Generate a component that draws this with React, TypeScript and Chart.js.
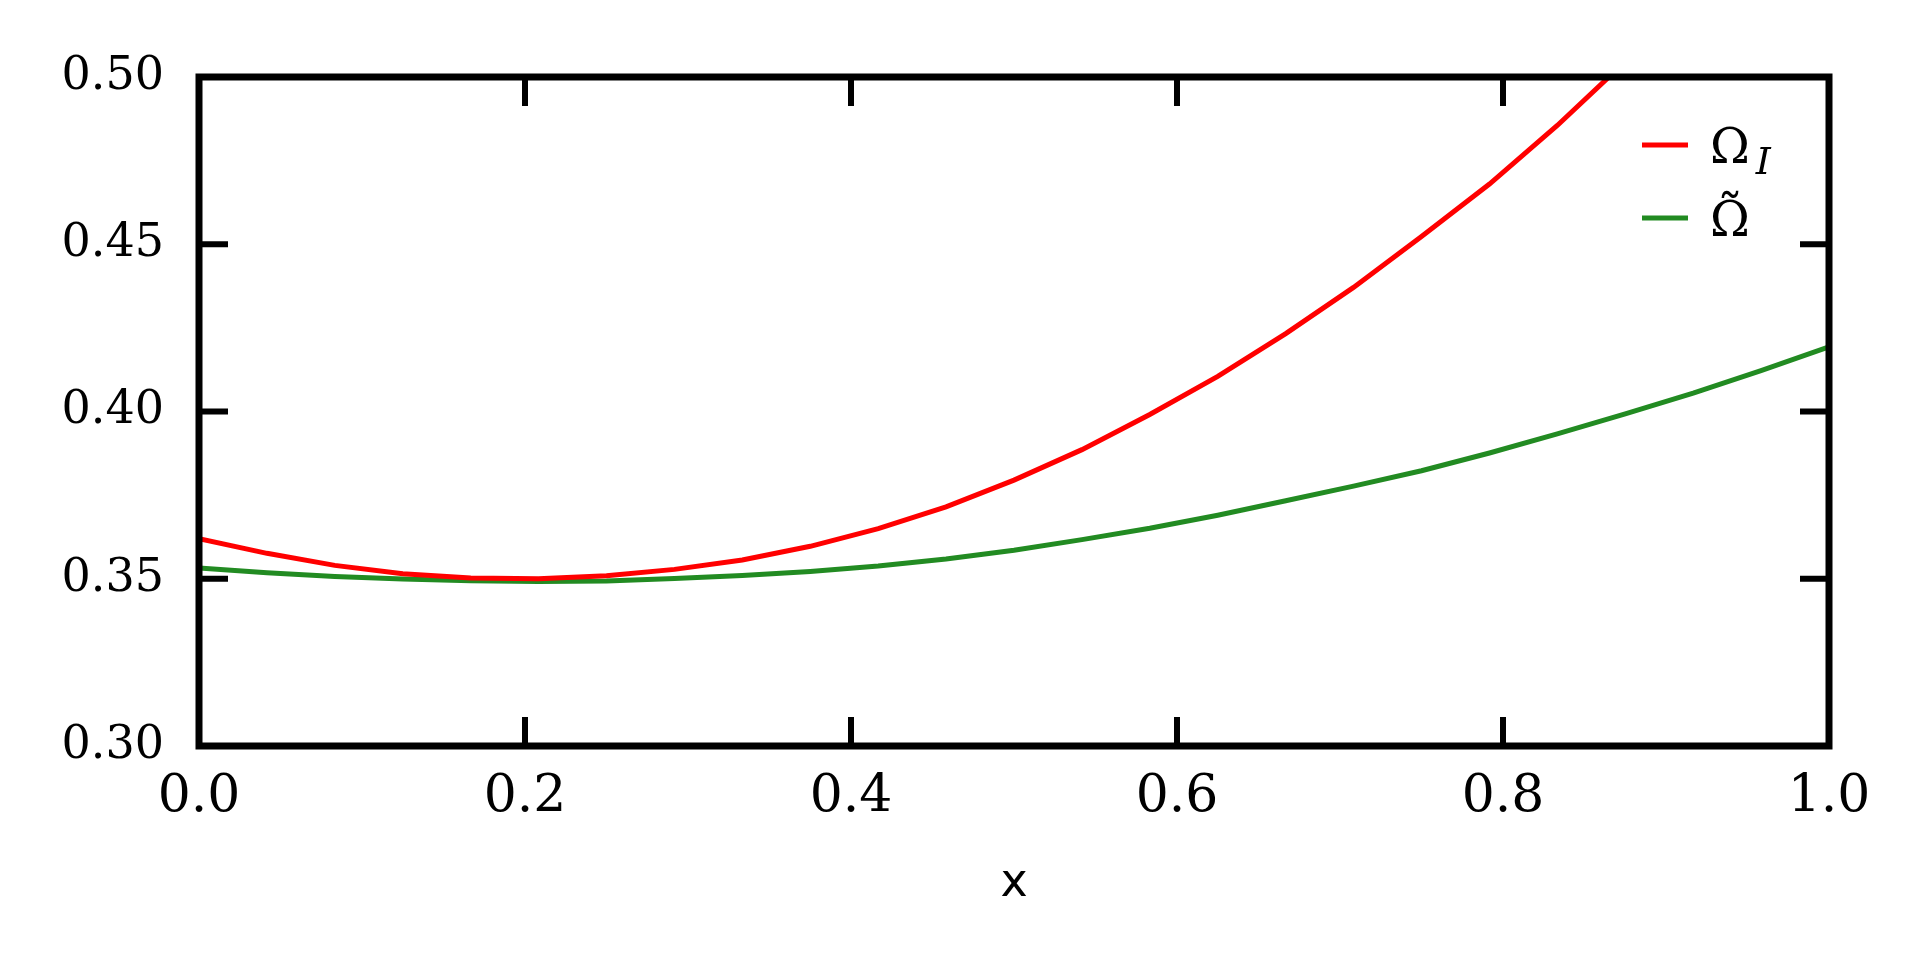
import React, { useEffect, useRef } from 'react';
import { Chart, registerables } from 'chart.js';

Chart.register(...registerables);

// x grid of the computed curves (24 intervals on [0, 1])
const X_VALUES = [
  0, 0.0417, 0.0833, 0.125, 0.1667, 0.2083, 0.25, 0.2917, 0.3333, 0.375, 0.4167, 0.4583, 0.5,
  0.5417, 0.5833, 0.625, 0.6667, 0.7083, 0.75, 0.7917, 0.8333, 0.875, 0.9167, 0.9583, 1.0,
];

// Ω_I (red) – leaves the plotted range above 0.5 near x ≈ 0.87
const OMEGA_I = [
  0.362, 0.3576, 0.354, 0.3515, 0.3502, 0.35, 0.3509, 0.3528, 0.3556, 0.3597, 0.365, 0.3715,
  0.3795, 0.3886, 0.3991, 0.4105, 0.4233, 0.4371, 0.4523, 0.468, 0.4855, 0.5046,
];

// Ω̃ (green)
const OMEGA_TILDE = [
  0.3532, 0.3518, 0.3507, 0.3499, 0.3494, 0.3492, 0.3493, 0.3501, 0.351, 0.3522, 0.3538, 0.3559,
  0.3585, 0.3617, 0.3651, 0.369, 0.3733, 0.3777, 0.3823, 0.3876, 0.3933, 0.3993, 0.4055, 0.4122,
  0.4193,
];

const X_MIN = 0;
const X_MAX = 1;
const X_STEP = 0.2;
const Y_MIN = 0.3;
const Y_MAX = 0.5;
const Y_STEP = 0.05;

const LEGEND_LABELS = ['Ω', 'Ω'];
const LEGEND_SUBSCRIPTS = ['I', ''];
const LEGEND_ACCENTS = ['', '˜'];
const SERIES_COLORS = ['#ff0000', '#228b22'];
const X_TITLE = 'x';

const framePlugin = {
  id: 'frameAndLegend',
  afterDatasetsDraw(chart: any) {
    const { ctx, chartArea: a, scales } = chart;
    ctx.save();
    ctx.strokeStyle = '#000';
    ctx.lineCap = 'butt';
    const L = 29;
    ctx.lineWidth = 6;
    ctx.beginPath();
    scales.x.ticks.forEach((t: any) => {
      const px = scales.x.getPixelForValue(t.value);
      if (px > a.left + 2 && px < a.right - 2) {
        ctx.moveTo(px, a.bottom);
        ctx.lineTo(px, a.bottom - L);
        ctx.moveTo(px, a.top);
        ctx.lineTo(px, a.top + L);
      }
    });
    scales.y.ticks.forEach((t: any) => {
      const py = scales.y.getPixelForValue(t.value);
      if (py > a.top + 2 && py < a.bottom - 2) {
        ctx.moveTo(a.left, py);
        ctx.lineTo(a.left + L, py);
        ctx.moveTo(a.right, py);
        ctx.lineTo(a.right - L, py);
      }
    });
    ctx.stroke();

    ctx.lineWidth = 7;
    ctx.lineJoin = 'miter';
    ctx.strokeRect(a.left, a.top, a.right - a.left, a.bottom - a.top);

    // legend
    const rows = [a.top + 68, a.top + 141];
    const x0 = a.right - 187;
    const x1 = a.right - 141;
    const tx = a.right - 119;
    chart.data.datasets.forEach((ds: any, i: number) => {
      const y = rows[i];
      ctx.strokeStyle = ds.borderColor;
      ctx.lineWidth = 5;
      ctx.beginPath();
      ctx.moveTo(x0, y);
      ctx.lineTo(x1, y);
      ctx.stroke();
      ctx.fillStyle = '#000';
      ctx.textAlign = 'left';
      ctx.textBaseline = 'alphabetic';
      ctx.font = '48px "DejaVu Serif"';
      const base = y + 18;
      ctx.fillText(LEGEND_LABELS[i], tx, base);
      const w = ctx.measureText(LEGEND_LABELS[i]).width;
      if (LEGEND_ACCENTS[i]) {
        ctx.font = '52px "DejaVu Serif"';
        const m = ctx.measureText(LEGEND_ACCENTS[i]);
        const targetTop = y - 28;
        const ab = targetTop + m.actualBoundingBoxAscent;
        const aw = m.actualBoundingBoxLeft + m.actualBoundingBoxRight;
        const ax = tx + w / 2 - aw / 2 + m.actualBoundingBoxLeft;
        ctx.fillText(LEGEND_ACCENTS[i], ax, ab);
      }
      if (LEGEND_SUBSCRIPTS[i]) {
        ctx.font = 'italic 38px "DejaVu Serif"';
        ctx.fillText(LEGEND_SUBSCRIPTS[i], tx + w + 6, y + 29);
      }
    });
    ctx.restore();
  },
};

export default function App() {
  const canvasRef = useRef<HTMLCanvasElement | null>(null);

  useEffect(() => {
    const canvas = canvasRef.current;
    if (!canvas) return;
    const chart = new Chart(canvas, {
      type: 'line',
      data: {
        datasets: [
          {
            label: 'Ω_I',
            data: OMEGA_I.map((v, i) => ({ x: X_VALUES[i], y: v })),
            borderColor: SERIES_COLORS[0],
            borderWidth: 5,
            pointRadius: 0,
            tension: 0,
            fill: false,
            clip: 0,
          },
          {
            label: 'Ω̃',
            data: OMEGA_TILDE.map((v, i) => ({ x: X_VALUES[i], y: v })),
            borderColor: SERIES_COLORS[1],
            borderWidth: 5,
            pointRadius: 0,
            tension: 0,
            fill: false,
            clip: 0,
          },
        ],
      },
      options: {
        animation: false,
        responsive: false,
        devicePixelRatio: 1,
        layout: { padding: { top: 77, right: 103, left: 0, bottom: 0 } },
        plugins: { legend: { display: false }, tooltip: { enabled: false } },
        scales: {
          x: {
            type: 'linear',
            min: X_MIN,
            max: X_MAX,
            afterFit: (s: any) => {
              s.height = 226;
            },
            grid: { display: false, drawTicks: false },
            border: { display: false },
            ticks: {
              stepSize: X_STEP,
              autoSkip: false,
              maxRotation: 0,
              padding: 20,
              color: '#000',
              font: { family: 'DejaVu Serif', size: 52 },
              callback: (v: any) => Number(v).toFixed(1),
            },
            title: {
              display: true,
              text: X_TITLE,
              color: '#000',
              font: { family: 'DejaVu Sans', size: 46 },
              padding: { top: 0, bottom: 60 },
            },
          },
          y: {
            type: 'linear',
            min: Y_MIN,
            max: Y_MAX,
            afterFit: (s: any) => {
              s.width = 199;
            },
            grid: { display: false, drawTicks: false },
            border: { display: false },
            ticks: {
              stepSize: Y_STEP,
              autoSkip: false,
              padding: 35,
              color: '#000',
              font: { family: 'DejaVu Serif', size: 46 },
              callback: (v: any) => Number(v).toFixed(2),
            },
          },
        },
      },
      plugins: [framePlugin],
    });
    return () => chart.destroy();
  }, []);

  return (
    <div style={{ position: 'fixed', left: 0, top: 0, width: 1932, height: 972, background: '#fff' }}>
      <canvas ref={canvasRef} width={1932} height={972} style={{ display: 'block' }} />
    </div>
  );
}
